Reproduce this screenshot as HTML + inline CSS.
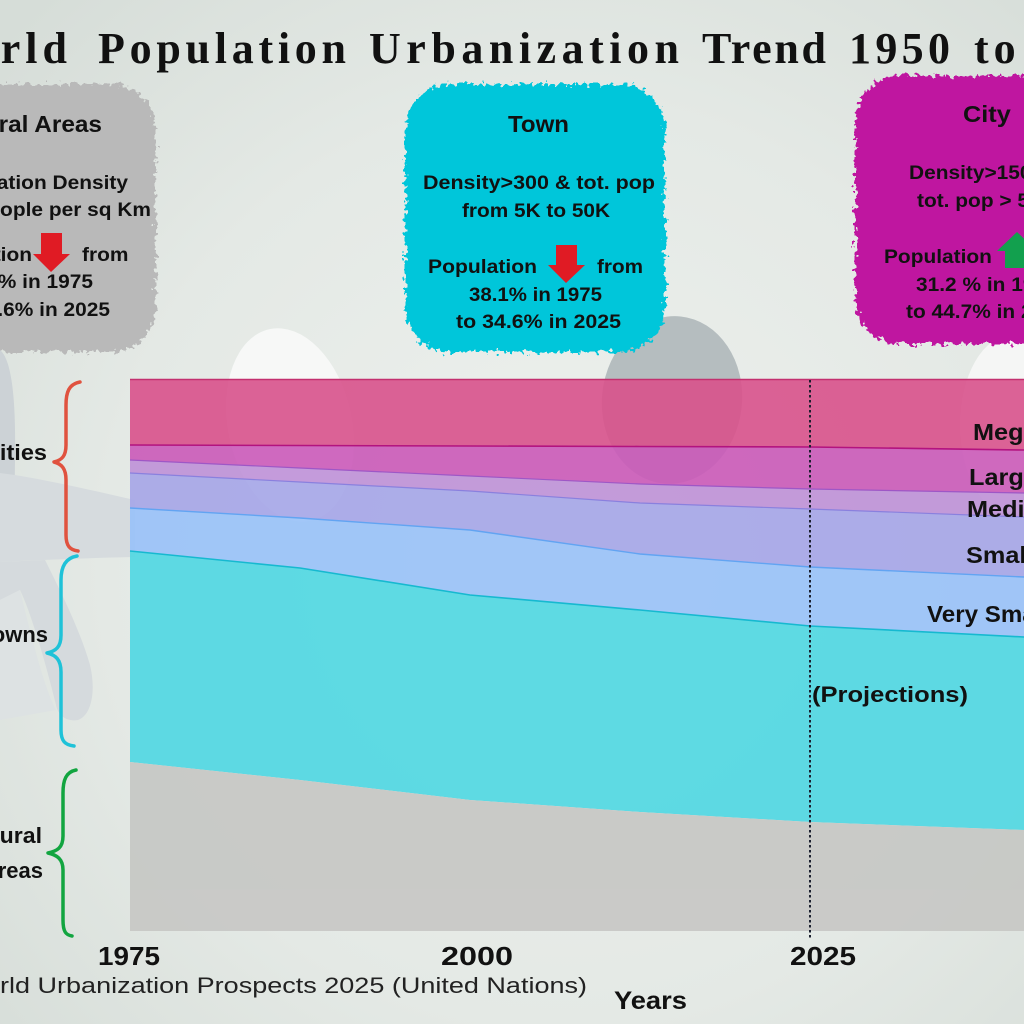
<!DOCTYPE html>
<html>
<head>
<meta charset="utf-8">
<style>
  html,body{margin:0;padding:0;background:#e5eae6;}
  svg{display:block;}
  .b{font-family:"Liberation Sans",sans-serif;font-weight:bold;fill:#111;}
</style>
</head>
<body>
<svg width="1024" height="1024" viewBox="0 0 1024 1024" xmlns="http://www.w3.org/2000/svg">
  <defs>
    <radialGradient id="bg" cx="55%" cy="55%" r="75%">
      <stop offset="0" stop-color="#eef1ee"/>
      <stop offset="0.6" stop-color="#e4e9e5"/>
      <stop offset="1" stop-color="#d6ddd8"/>
    </radialGradient>
    <filter id="rough" x="-10%" y="-10%" width="120%" height="120%">
      <feTurbulence type="fractalNoise" baseFrequency="0.22" numOctaves="2" seed="4"/>
      <feDisplacementMap in="SourceGraphic" scale="13" xChannelSelector="R" yChannelSelector="G"/>
    </filter>
  </defs>

  <!-- background -->
  <rect x="0" y="0" width="1024" height="1024" fill="url(#bg)"/>

  <!-- faint silhouettes -->
  <path d="M0,350 C12,360 16,400 15,460 L14,540 L0,540 Z" fill="#ccd2d6"/>
  <path d="M0,473 C40,478 90,490 135,500 L135,557 C90,558 40,560 0,562 Z" fill="#d6dbde"/>
  <path d="M0,562 L45,560 C60,590 80,630 90,665 C96,690 92,715 78,720 C66,722 58,715 56,705 C45,660 30,610 20,590 L0,600 Z" fill="#d5dadd"/>
  <path d="M0,600 L20,590 C32,640 45,690 56,710 L0,720 Z" fill="#dde2e3"/>
  <ellipse cx="290" cy="425" rx="62" ry="98" transform="rotate(-12 290 425)" fill="#f7f8f7"/>
  <ellipse cx="672" cy="400" rx="70" ry="84" transform="rotate(6 672 400)" fill="#b5bdbf"/>
  <ellipse cx="1012" cy="425" rx="52" ry="90" fill="#f5f6f5"/>

  <!-- title -->
  <g font-family="'Liberation Serif',serif" font-weight="bold" font-size="44" fill="#111">
    <text x="72" y="63" text-anchor="end" letter-spacing="5">World</text>
    <text x="98" y="63" textLength="248" lengthAdjust="spacing">Population</text>
    <text x="369" y="63" textLength="310" lengthAdjust="spacing">Urbanization</text>
    <text x="702" y="63" textLength="124" lengthAdjust="spacing">Trend</text>
    <text x="849" y="63" textLength="101" lengthAdjust="spacing">1950</text>
    <text x="974" y="63" letter-spacing="5">to 2050</text>
  </g>

  <!-- boxes -->
  <rect x="-120" y="84" width="276" height="268" rx="45" fill="#b9b9b9" filter="url(#rough)"/>
  <rect x="405" y="84" width="260" height="268" rx="45" fill="#04c6da" filter="url(#rough)"/>
  <rect x="855" y="76" width="230" height="268" rx="45" fill="#bf14a0" filter="url(#rough)"/>

  <!-- gray box text -->
  <g class="b" text-anchor="end">
    <text transform="translate(102,132) scale(1.06,1)" font-size="23">Rural Areas</text>
    <text transform="translate(128,189) scale(1.1,1)" font-size="19">Population Density</text>
    <text transform="translate(151,216) scale(1.1,1)" font-size="19">&lt;300 people per sq Km</text>
    <text transform="translate(32,261) scale(1.1,1)" font-size="19">Population</text>
    <text transform="translate(93,288) scale(1.1,1)" font-size="19">30.7% in 1975</text>
    <text transform="translate(110,316) scale(1.1,1)" font-size="19">to 20.6% in 2025</text>
  </g>
  <text class="b" transform="translate(82,261) scale(1.1,1)" font-size="19">from</text>
  <path d="M41,233 L62,233 L62,254 L70,254 L51,272 L33,254 L41,254 Z" fill="#e01b24"/>

  <!-- town box text -->
  <g class="b">
    <text x="508" y="132" font-size="23" textLength="61" lengthAdjust="spacingAndGlyphs">Town</text>
    <text x="423" y="189" font-size="19" textLength="232" lengthAdjust="spacingAndGlyphs">Density&gt;300 &amp; tot. pop</text>
    <text x="462" y="217" font-size="19" textLength="148" lengthAdjust="spacingAndGlyphs">from 5K to 50K</text>
    <text x="428" y="273" font-size="19" textLength="109" lengthAdjust="spacingAndGlyphs">Population</text>
    <text x="597" y="273" font-size="19" textLength="46" lengthAdjust="spacingAndGlyphs">from</text>
    <text x="469" y="301" font-size="19" textLength="133" lengthAdjust="spacingAndGlyphs">38.1% in 1975</text>
    <text x="456" y="328" font-size="19" textLength="165" lengthAdjust="spacingAndGlyphs">to 34.6% in 2025</text>
  </g>
  <path d="M556,245 L577,245 L577,265 L585,265 L566,283 L548,265 L556,265 Z" fill="#e01b24"/>

  <!-- city box text -->
  <g class="b" fill="#1a0616">
    <text transform="translate(963,122) scale(1.1,1)" font-size="23">City</text>
    <text transform="translate(909,179) scale(1.1,1)" font-size="19">Density&gt;1500 &amp;</text>
    <text transform="translate(917,207) scale(1.1,1)" font-size="19">tot. pop &gt; 50K</text>
    <text transform="translate(884,263) scale(1.1,1)" font-size="19">Population</text>
    <text transform="translate(916,291) scale(1.1,1)" font-size="19">31.2 % in 1975</text>
    <text transform="translate(906,318) scale(1.1,1)" font-size="19">to 44.7% in 2025</text>
  </g>
  <path d="M1017,232 L1037,251 L1029,251 L1029,268 L1005,268 L1005,251 L997,251 Z" fill="#12a04e"/>

  <!-- chart bands -->
  <g opacity="0.9">
    <polygon fill="#d9528c" points="130,379 1024,379 1024,450 810,447 640,446.5 470,446 300,445.5 130,445"/>
    <polygon fill="#cb5ab9" points="130,445 300,445.5 470,446 640,446.5 810,447 1024,450 1024,493 810,489 640,484 470,476 300,468 130,460"/>
    <polygon fill="#bf92d8" points="130,460 300,468 470,476 640,484 810,489 1024,493 1024,517 810,509 640,503 470,491 300,482 130,473"/>
    <polygon fill="#a6a6e8" points="130,473 300,482 470,491 640,503 810,509 1024,517 1024,577 810,567 640,554 470,530 300,518 130,508"/>
    <polygon fill="#99c2f9" points="130,508 300,518 470,530 640,554 810,567 1024,577 1024,637 810,626 640,610 470,595 300,568 130,551"/>
    <polygon fill="#4fd8e3" points="130,551 300,568 470,595 640,610 810,626 1024,637 1024,830 810,822 640,812 470,800 300,780 130,762"/>
    <polygon fill="#c6c7c4" points="130,762 300,780 470,800 640,812 810,822 1024,830 1024,931 130,931"/>
  </g>
  <g fill="none">
    <line x1="130" y1="379.5" x2="1024" y2="379.5" stroke="#c3306f" stroke-width="1.5"/>
    <polyline stroke="#b3137f" stroke-width="1.6" points="130,445 300,445.5 470,446 640,446.5 810,447 1024,450"/>
    <polyline stroke="#9e57c6" stroke-width="1.2" points="130,460 300,468 470,476 640,484 810,489 1024,493"/>
    <polyline stroke="#8a80de" stroke-width="1.2" points="130,473 300,482 470,491 640,503 810,509 1024,517"/>
    <polyline stroke="#62a4f2" stroke-width="1.4" points="130,508 300,518 470,530 640,554 810,567 1024,577"/>
    <polyline stroke="#16b9d0" stroke-width="1.6" points="130,551 300,568 470,595 640,610 810,626 1024,637"/>
  </g>

  <!-- projection divider -->
  <line x1="810" y1="380" x2="810" y2="940" stroke="#1a1f2e" stroke-width="2" stroke-dasharray="2.5,2.5"/>

  <!-- right labels -->
  <g class="b" font-size="23">
    <text transform="translate(973,440) scale(1.1,1)">Mega</text>
    <text transform="translate(969,485) scale(1.1,1)">Large</text>
    <text transform="translate(967,517) scale(1.1,1)">Medium</text>
    <text transform="translate(966,563) scale(1.1,1)">Small</text>
    <text transform="translate(927,622) scale(1.05,1)">Very Small</text>
  </g>
  <text class="b" x="812" y="702" font-size="22" textLength="156" lengthAdjust="spacingAndGlyphs">(Projections)</text>

  <!-- braces -->
  <g fill="none" stroke-width="3.5" stroke-linecap="round" stroke-linejoin="round">
    <path stroke="#e0523f" d="M80,382 C69,384 66,392 66,405 L66,445 C66,456 62,460 54,462 C62,464 66,469 66,480 L66,535 C66,546 70,550 78,551"/>
    <path stroke="#1fc2d8" d="M77,556 C66,558 61,566 61,580 L61,635 C61,647 56,651 47,653 C56,655 61,660 61,672 L61,730 C61,741 65,745 74,746"/>
    <path stroke="#12a540" d="M76,770 C66,772 63,780 63,793 L63,836 C63,848 57,851 48,853 C57,855 63,859 63,870 L63,920 C63,932 66,935 72,936"/>
  </g>
  <g class="b" font-size="22" text-anchor="end">
    <text transform="translate(47,460) scale(1.07,1)">Cities</text>
    <text x="48" y="642">Towns</text>
    <text transform="translate(42,843) scale(1.05,1)">Rural</text>
    <text x="43" y="878">Areas</text>
  </g>

  <!-- x axis -->
  <g class="b" font-size="26">
    <text x="98" y="965" textLength="62" lengthAdjust="spacingAndGlyphs">1975</text>
    <text x="441" y="965" textLength="72" lengthAdjust="spacingAndGlyphs">2000</text>
    <text x="790" y="965" textLength="66" lengthAdjust="spacingAndGlyphs">2025</text>
    <text x="614" y="1009" font-size="25" textLength="73" lengthAdjust="spacingAndGlyphs">Years</text>
  </g>
  <text x="0" y="993" text-anchor="end" font-family="'Liberation Sans',sans-serif" font-size="22" fill="#222">Source: Wo</text>
  <text x="0" y="993" font-family="'Liberation Sans',sans-serif" font-size="22" fill="#222" textLength="587" lengthAdjust="spacingAndGlyphs">rld Urbanization Prospects 2025 (United Nations)</text>
</svg>
</body>
</html>
